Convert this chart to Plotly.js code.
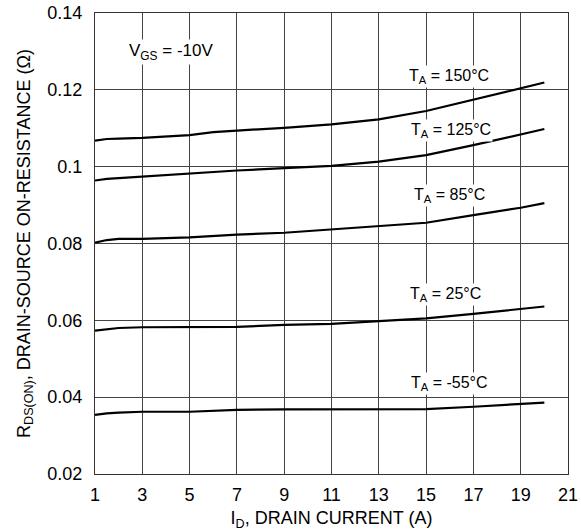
<!DOCTYPE html>
<html>
<head>
<meta charset="utf-8">
<script src="https://cdn.plot.ly/plotly-3.0.1.min.js"></script>
<style>html,body{margin:0;padding:0;background:#fff;}#chart{width:581px;height:531px;}</style>
</head>
<body>
<div id="chart"></div>
<script>
const currentA = [1, 1.5, 2, 3, 5, 6, 7, 9, 11, 13, 15, 17, 19, 20];
const r150 = [0.1068, 0.1072, 0.1073, 0.1075, 0.1082, 0.1090, 0.1094, 0.1101, 0.1110, 0.1123, 0.1145, 0.1174, 0.1204, 0.1219];
const r125 = [0.0964, 0.0968, 0.0970, 0.0974, 0.0983, 0.0987, 0.0990, 0.0996, 0.1002, 0.1013, 0.1030, 0.1056, 0.1085, 0.1098];
const r85  = [0.0802, 0.0809, 0.0812, 0.0812, 0.0816, 0.0820, 0.0823, 0.0828, 0.0837, 0.0846, 0.0854, 0.0874, 0.0893, 0.0905];
const r25  = [0.0573, 0.0577, 0.0580, 0.0582, 0.0582, 0.0582, 0.0583, 0.0588, 0.0591, 0.0598, 0.0605, 0.0617, 0.0630, 0.0636];
const rm55 = [0.0354, 0.0358, 0.0360, 0.0362, 0.0362, 0.0364, 0.0367, 0.0368, 0.0368, 0.0368, 0.0369, 0.0375, 0.0382, 0.0386];
const seriesNames = ['T<sub>A</sub> = 150°C', 'T<sub>A</sub> = 125°C', 'T<sub>A</sub> = 85°C', 'T<sub>A</sub> = 25°C', 'T<sub>A</sub> = -55°C'];
const labelX = [15.97, 16.05, 16.0, 15.8, 16.0];
const labelY = [0.1236, 0.1095, 0.0926, 0.0666, 0.0436];
const xTicks = [1, 3, 5, 7, 9, 11, 13, 15, 17, 19, 21];
const yTicks = [0.02, 0.04, 0.06, 0.08, 0.1, 0.12, 0.14];
const yTickText = ['0.02', '0.04', '0.06', '0.08', '0.1', '0.12', '0.14'];

const allSeries = [r150, r125, r85, r25, rm55];
const font = 'Liberation Sans, Arial, sans-serif';

const traces = allSeries.map((ys, i) => ({
  x: currentA, y: ys, type: 'scatter', mode: 'lines', name: seriesNames[i],
  line: {color: '#000', width: 2.2}, hoverinfo: 'skip'
}));

const annotations = seriesNames.map((t, i) => ({
  x: labelX[i], y: labelY[i], xref: 'x', yref: 'y', text: t, showarrow: false,
  font: {family: font, size: 16, color: '#000'}, bgcolor: '#fff', borderpad: 1
}));
annotations.push({
  x: 4.21, y: 0.1298, xref: 'x', yref: 'y', text: 'V<sub>GS</sub> = -10V', showarrow: false,
  font: {family: font, size: 17, color: '#000'}, bgcolor: '#fff', borderpad: 1
});

const layout = {
  width: 581, height: 531,
  margin: {l: 95, r: 13, t: 13, b: 57},
  paper_bgcolor: '#fff', plot_bgcolor: '#fff',
  showlegend: false,
  font: {family: font, size: 18, color: '#000'},
  xaxis: {
    range: [1, 21], tickvals: xTicks, ticktext: xTicks.map(String),
    showgrid: true, gridcolor: '#444', gridwidth: 1,
    showline: true, linecolor: '#333', linewidth: 1, mirror: true,
    zeroline: false, ticks: '', ticklen: 0, ticklabelstandoff: 4,
    tickfont: {family: font, size: 18, color: '#000'},
    title: {text: 'I<sub>D</sub>, DRAIN CURRENT (A)', font: {family: font, size: 18, color: '#000'}, standoff: 12}
  },
  yaxis: {
    range: [0.02, 0.14], tickvals: yTicks, ticktext: yTickText,
    showgrid: true, gridcolor: '#444', gridwidth: 1,
    showline: true, linecolor: '#333', linewidth: 1, mirror: true,
    zeroline: false, ticks: '', ticklen: 0, ticklabelstandoff: 8,
    tickfont: {family: font, size: 18, color: '#000'},
    title: {text: 'R<sub>DS(ON)</sub>, DRAIN-SOURCE ON-RESISTANCE (Ω)', font: {family: font, size: 18, color: '#000'}, standoff: 12}
  },
  annotations: annotations
};

Plotly.newPlot('chart', traces, layout, {staticPlot: true, displayModeBar: false});
</script>
</body>
</html>
